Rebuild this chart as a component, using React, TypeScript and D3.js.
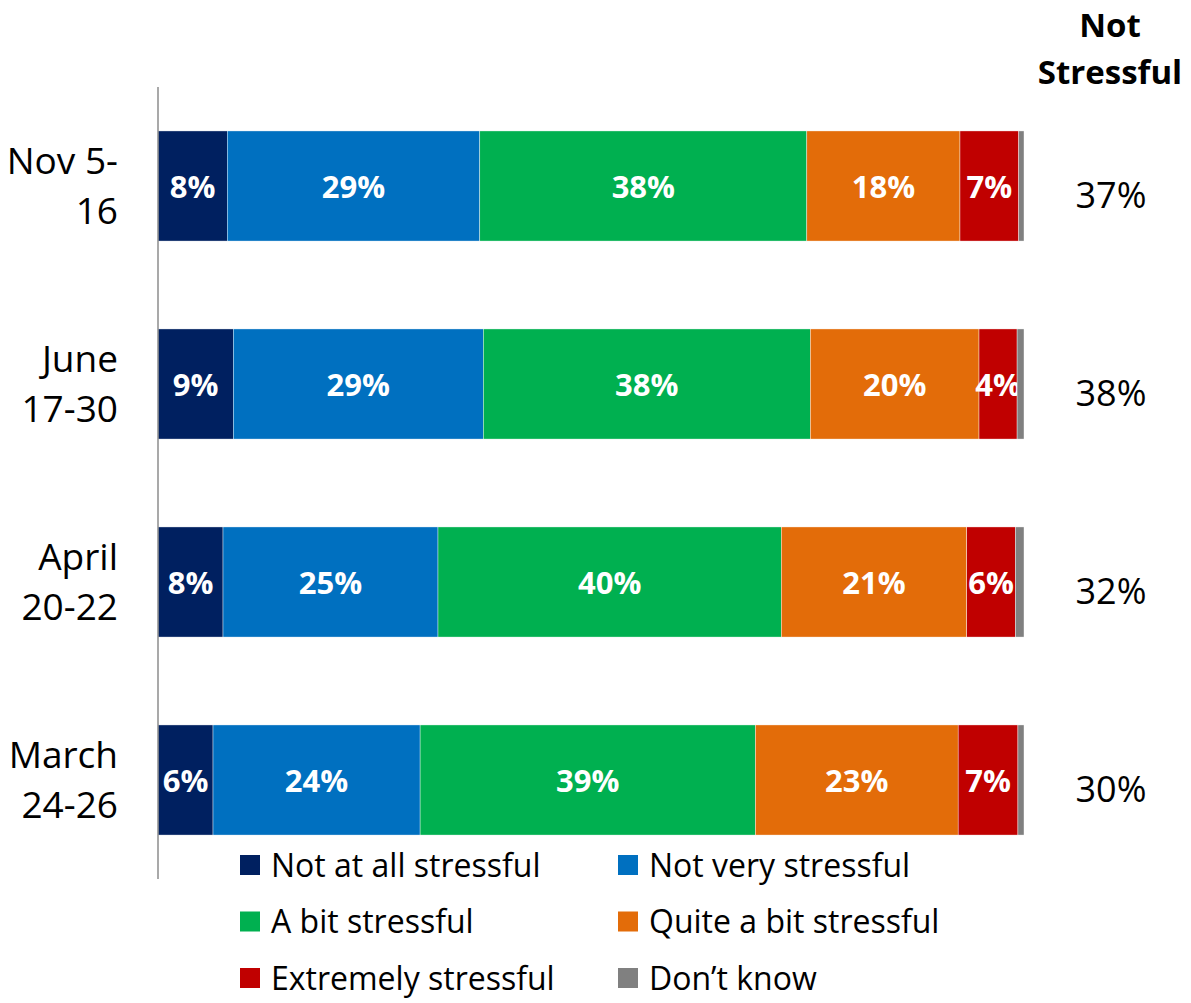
import * as d3 from "d3";

const categories = [
  ["Nov 5-", "16"],
  ["June", "17-30"],
  ["April", "20-22"],
  ["March", "24-26"],
];
const seriesNames = [
  "Not at all stressful",
  "Not very stressful",
  "A bit stressful",
  "Quite a bit stressful",
  "Extremely stressful",
  "Don\u2019t know",
];
const notAtAll = [8.0, 8.7, 7.5, 6.35];
const notVery = [29.2, 28.9, 24.8, 23.9];
const aBit = [37.8, 37.8, 39.6, 38.7];
const quiteABit = [17.7, 19.5, 21.4, 23.4];
const extremely = [6.8, 4.4, 5.6, 6.9];
const dontKnow = [0.6, 0.8, 1.0, 0.7];
const notStressful = [37, 38, 32, 30];

const colors = ["#002060", "#0070C0", "#00B050", "#E36C09", "#C00000", "#808080"];

const W = 1191;
const H = 1003;
const FONT = "'Open Sans', Lato, sans-serif";

export default function App() {
  const keys = seriesNames;
  const rows = categories.map((c, i) => ({
    idx: i,
    [keys[0]]: notAtAll[i],
    [keys[1]]: notVery[i],
    [keys[2]]: aBit[i],
    [keys[3]]: quiteABit[i],
    [keys[4]]: extremely[i],
    [keys[5]]: dontKnow[i],
  }));

  // 100% stacked rows
  const stack = d3.stack<any>().keys(keys).offset(d3.stackOffsetExpand);
  const series = stack(rows);

  const x = d3.scaleLinear().domain([0, 1]).range([158, 1024]);
  const y = d3
    .scaleBand<number>()
    .domain(categories.map((_, i) => i))
    .range([87, 879])
    .paddingInner(0.444)
    .paddingOuter(0.222);

  const bw = y.bandwidth();

  return (
    <svg
      width={W}
      height={H}
      style={{ position: "absolute", left: 0, top: 0, background: "#fff" }}
      fontFamily={FONT}
    >
      {/* stacked bars */}
      {series.map((s, si) => (
        <g key={s.key} fill={colors[si]}>
          {s.map((d, ri) => {
            const x0 = x(d[0]);
            const x1 = x(d[1]);
            const cy = y(ri)! + bw / 2;
            const val = Math.round((d.data as any)[s.key]);
            return (
              <g key={ri}>
                <rect
                  x={x0}
                  y={y(ri)}
                  width={x1 - x0}
                  height={bw}
                  stroke="#ffffff"
                  strokeWidth={0.4}
                />
                {si < 5 && (
                  <text
                    x={(x0 + x1) / 2}
                    y={cy + 1}
                    dy="0.36em"
                    textAnchor="middle"
                    fill="#fff"
                    fontWeight="bold"
                    fontSize={31}
                  >
                    {val}%
                  </text>
                )}
              </g>
            );
          })}
        </g>
      ))}

      {/* axis line */}
      <line x1={158} x2={158} y1={y.range()[0]} y2={y.range()[1]} stroke="#8c8c8c" strokeWidth={1.5} />

      {/* category labels */}
      {categories.map((c, i) => {
        const cy = y(i)! + bw / 2;
        return (
          <text key={i} textAnchor="end" fontSize={37} fill="#000">
            <tspan x={118} y={cy - 25} dy="0.36em">
              {c[0]}
            </tspan>
            <tspan x={118} y={cy + 25} dy="0.36em">
              {c[1]}
            </tspan>
          </text>
        );
      })}

      {/* Not stressful column */}
      <text textAnchor="middle" fontSize={33} fontWeight="bold" fill="#000">
        <tspan x={1110} y={25} dy="0.36em">
          Not
        </tspan>
        <tspan x={1110} y={72} dy="0.36em">
          Stressful
        </tspan>
      </text>
      {notStressful.map((v, i) => (
        <text
          key={i}
          x={1111}
          y={y(i)! + bw / 2 + 9}
          dy="0.36em"
          textAnchor="middle"
          fontSize={36}
          fill="#000"
        >
          {v}%
        </text>
      ))}

      {/* legend */}
      {seriesNames.map((name, i) => {
        const col = i % 2;
        const row = Math.floor(i / 2);
        const lx = col === 0 ? 240 : 618;
        const ly = 865 + row * 56.5;
        return (
          <g key={name}>
            <rect x={lx} y={ly - 10} width={20} height={20} fill={colors[i]} />
            <text x={lx + 31} y={ly} dy="0.36em" fontSize={32} fill="#000">
              {name}
            </text>
          </g>
        );
      })}
    </svg>
  );
}
